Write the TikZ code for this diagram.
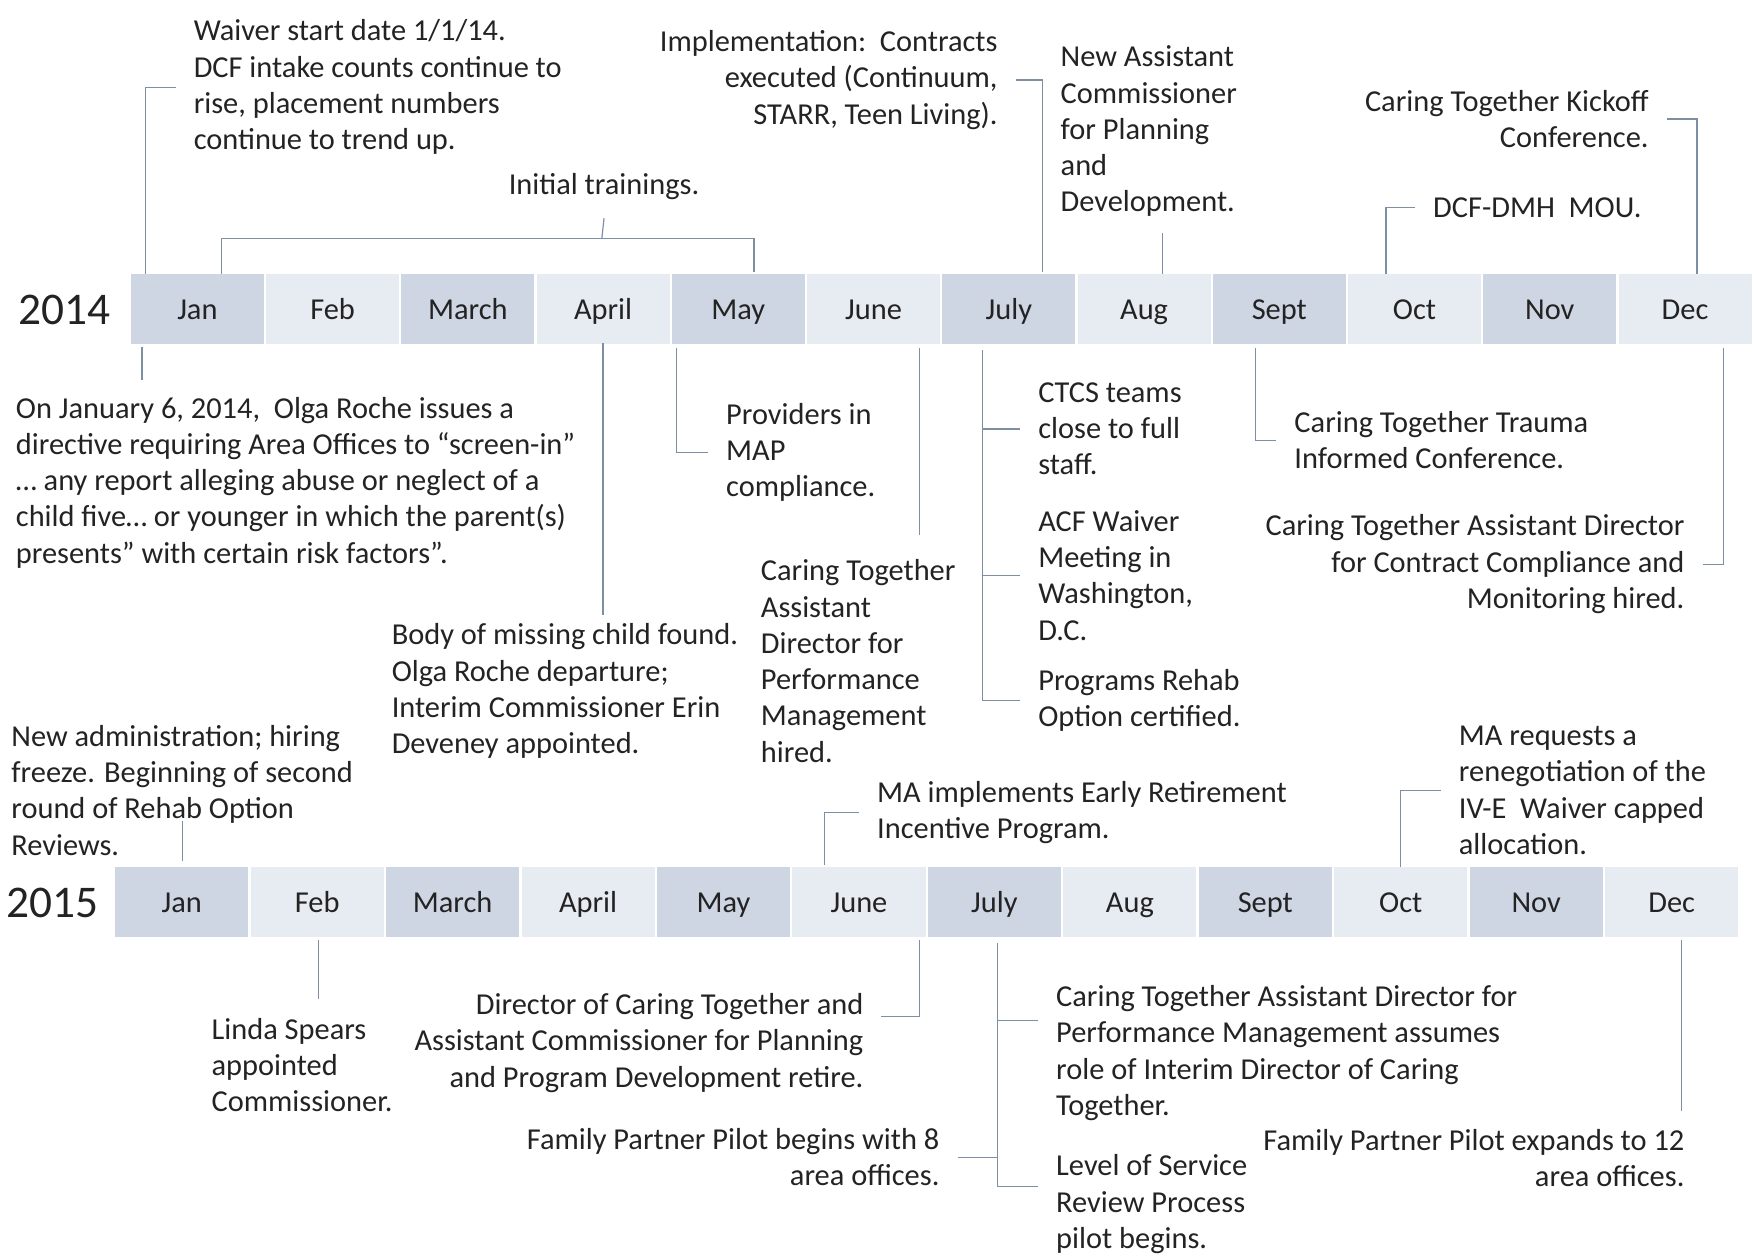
\documentclass[tikz,border=0pt]{standalone}
\usepackage{fontspec}
\setmainfont{Carlito}
\definecolor{cdark}{RGB}{206,213,227}
\definecolor{clight}{RGB}{231,235,242}
\definecolor{linec}{RGB}{125,143,163}
\definecolor{txt}{RGB}{35,35,35}
\newcommand\evfont{\fontsize{22.8}{27.2}\selectfont}
\newcommand\yrfont{\fontsize{34}{40}\selectfont}
\begin{document}
\begin{tikzpicture}[x=0.83895pt,y=-0.83895pt,
 ev/.style={font=\evfont,text=txt,inner xsep=13.4pt,inner ysep=0pt,align=left,yshift=-1.2pt},
 evr/.style={ev,align=right},
 cell/.style={minimum width=99.8pt,minimum height=52.5pt,inner sep=0pt,font=\evfont,text=txt,text height=18pt,text depth=2pt},
 yr/.style={font=\yrfont,text=txt},
 conn/.style={draw=linec,line width=0.9pt}]
\useasboundingbox[fill=white] (0,0) rectangle (1568,1125.5);
% month bars
\foreach \m [count=\i] in {Jan,Feb,March,April,May,June,July,Aug,Sept,Oct,Nov,Dec}{
  \ifodd\i\def\cc{cdark}\else\def\cc{clight}\fi
  \node[cell,fill=\cc] (a\i) at ({117+(\i-1)*120.9+59.45},276) {\m};
  \node[cell,fill=\cc] (b\i) at ({103+(\i-1)*121.08+59.5},806.5) {\m};
}
\node[yr] (y14) at (58,277) {2014};
\node[yr] (y15) at (47,807) {2015};

% ---------- 2014 above ----------
\node[ev,anchor=west] (waiver) at (157,76.5) {Waiver start date 1/1/14.\\DCF intake counts continue to\\rise, placement numbers\\continue to trend up.};
\coordinate (cw) at (130,245);
\draw[conn] (waiver.west) -| (cw);

\node[ev,inner xsep=0pt,inner ysep=14pt] (train) at (540,165) {Initial trainings.};
\coordinate (t1) at (198,245);
\coordinate (t2) at (538,213);
\coordinate (t3) at (674,243);
\draw[conn] (t1) |- (t2) -| (t3);
\draw[conn] (t2) -- (train.south);

\node[evr,anchor=east] (impl) at (908,70) {Implementation:\ \ Contracts\\executed (Continuum,\\STARR, Teen Living).};
\coordinate (ci) at (932,243);
\draw[conn] (impl.east) -| (ci);

\node[ev,anchor=west] (newac) at (932,116) {New Assistant\\Commissioner\\for Planning\\and\\Development.};
\coordinate (na1) at (1039,208);
\coordinate (na2) at (1039,245);
\draw[conn] (na1) -- (na2);

\node[evr,anchor=east] (kick) at (1490,105) {Caring Together Kickoff\\Conference.};
\coordinate (ck) at (1517,245);
\draw[conn] (kick.east) -| (ck);

\node[ev,anchor=west] (mou) at (1265,184) {DCF-DMH\ \ MOU.};
\coordinate (cm) at (1239,245);
\draw[conn] (mou.west) -| (cm);

% ---------- 2014 below ----------
\node[ev,anchor=west] (jan6) at (-2,430) {On January 6, 2014,\ \ Olga Roche issues a\\directive requiring Area Offices to “screen-in”\\… any report alleging abuse or neglect of a\\child five… or younger in which the parent(s)\\presents” with certain risk factors”.};
\coordinate (j6a) at (127,310);
\coordinate (j6b) at (127,340);
\draw[conn] (j6a) -- (j6b);

\node[ev,anchor=west] (body) at (334,616.5) {Body of missing child found.\\Olga Roche departure;\\Interim Commissioner Erin\\Deveney appointed.};
\coordinate (bo1) at (539,307);
\coordinate (bo2) at (539,550);
\draw[conn] (bo1) -- (bo2);

\node[ev,anchor=west] (prov) at (633,403) {Providers in\\MAP\\compliance.};
\coordinate (cp) at (605,311);
\draw[conn] (prov.west) -| (cp);

\node[ev,anchor=west] (ctpm) at (664,589.5) {Caring Together\\Assistant\\Director for\\Performance\\Management\\hired.};
\coordinate (pm1) at (822,311);
\coordinate (pm2) at (822,478);
\draw[conn] (pm1) -- (pm2);

\node[ev,anchor=west] (ctcs) at (912,382) {CTCS teams\\close to full\\staff.};
\node[ev,anchor=west] (acf) at (912,513) {ACF Waiver\\Meeting in\\Washington,\\D.C.};
\node[ev,anchor=west] (prog) at (912,625) {Programs Rehab\\Option certified.};
\coordinate (cj) at (878,313);
\draw[conn] (cj) |- (prog.west);
\draw[conn] (ctcs.west) -- (ctcs.west -| cj);
\draw[conn] (acf.west) -- (acf.west -| cj);

\node[ev,anchor=west] (trauma) at (1141,392) {Caring Together Trauma\\Informed Conference.};
\coordinate (cs) at (1122,311);
\draw[conn] (trauma.west) -| (cs);

\node[evr,anchor=east] (ctacc) at (1522,503) {Caring Together Assistant Director\\for Contract Compliance and\\Monitoring hired.};
\coordinate (cd) at (1541,311);
\draw[conn] (ctacc.east) -| (cd);

% ---------- 2015 above ----------
\node[ev,anchor=west] (newadm) at (-6,705) {New administration; hiring\\freeze. Beginning of second\\round of Rehab Option\\Reviews.};
\coordinate (na5a) at (163,734);
\coordinate (na5b) at (163,770);
\draw[conn] (na5a) -- (na5b);

\node[ev,anchor=west] (maimp) at (768,725) {MA implements Early Retirement\\Incentive Program.};
\coordinate (cmi) at (737,773);
\draw[conn] (maimp.west) -| (cmi);

\node[ev,anchor=west] (mareq) at (1288,705) {MA requests a\\renegotiation of the\\IV-E\ \ Waiver capped\\allocation.};
\coordinate (cmr) at (1252,775);
\draw[conn] (mareq.west) -| (cmr);

% ---------- 2015 below ----------
\node[ev,anchor=west] (linda) at (173,950.5) {Linda Spears\\appointed\\Commissioner.};
\coordinate (li1) at (285,840);
\coordinate (li2) at (285,893);
\draw[conn] (li1) -- (li2);

\node[evr,anchor=east] (dirct) at (788,931) {Director of Caring Together and\\Assistant Commissioner for Planning\\and Program Development retire.};
\coordinate (cdr) at (822,840);
\draw[conn] (cdr) |- ([yshift=20pt]dirct.east);

\node[evr,anchor=east] (fp8) at (856,1033) {Family Partner Pilot begins with 8\\area offices.};
\node[ev,anchor=west] (ctint) at (928,940) {Caring Together Assistant Director for\\Performance Management assumes\\role of Interim Director of Caring\\Together.};
\node[ev,anchor=west] (los) at (928,1075) {Level of Service\\Review Process\\pilot begins.};
\coordinate (cj5) at (892,843);
\draw[conn] (cj5) |- ([yshift=13.4pt]los.west);
\draw[conn] ([yshift=24.3pt]ctint.west) -- ([yshift=24.3pt]ctint.west -| cj5);
\draw[conn] (fp8.east) -- (fp8.east -| cj5);

\node[evr,anchor=east] (fp12) at (1522,1034) {Family Partner Pilot expands to 12\\area offices.};
\coordinate (f12a) at (1503,840);
\coordinate (f12b) at (1503,993);
\draw[conn] (f12a) -- (f12b);
\end{tikzpicture}
\end{document}
